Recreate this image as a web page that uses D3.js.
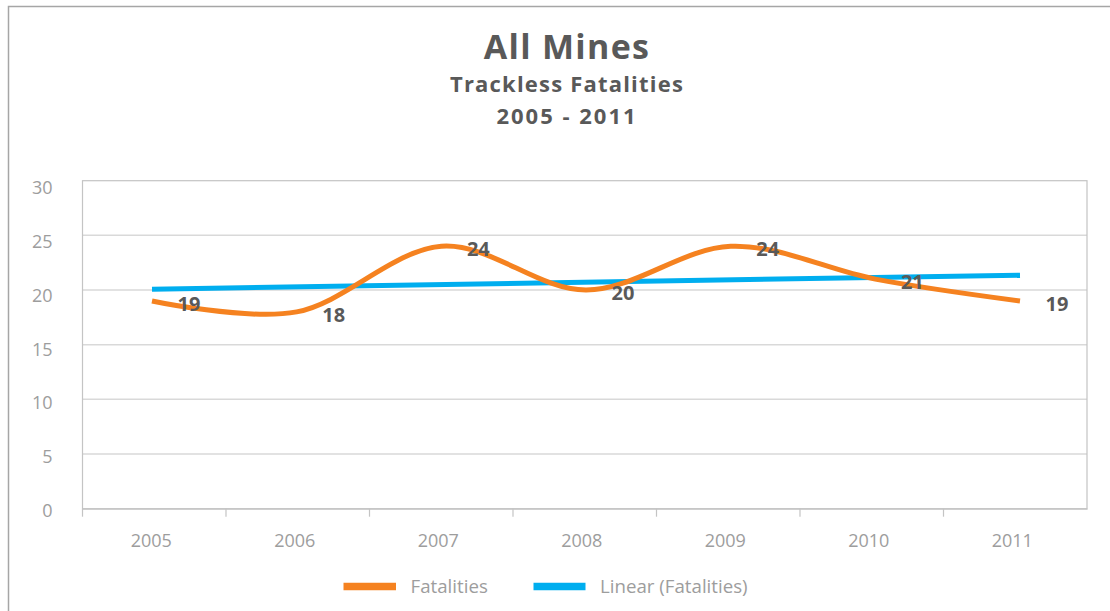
<!DOCTYPE html>
<html>
<head>
<meta charset="utf-8">
<script src="https://cdn.jsdelivr.net/npm/d3@7"></script>
<style>
  html, body { margin: 0; padding: 0; background: #ffffff; }
  svg { display: block; font-family: "Open Sans", "Noto Sans", sans-serif; }
</style>
</head>
<body>
<svg id="chart" width="1110" height="611"></svg>
<script>
// Trackless fatalities, all mines, 2005-2011
const years = ["2005", "2006", "2007", "2008", "2009", "2010", "2011"];
const fatalities = [19, 18, 24, 20, 24, 21, 19];
const yTicks = [0, 5, 10, 15, 20, 25, 30];
const titleLines = ["All Mines", "Trackless Fatalities", "2005 - 2011"];
const seriesNames = ["Fatalities", "Linear (Fatalities)"];

const W = 1110, H = 611;
const plot = { left: 82.5, right: 1087, top: 180.7, bottom: 508.7 };
const orange = "#F58220", blue = "#00AEEF";
const textDark = "#595959", textGrey = "#9d9d9d";

const svg = d3.select("#chart");

// Outer chart frame (top and left edges visible)
svg.append("path")
  .attr("d", `M8.5,${H} V6.5 H${W}`)
  .attr("fill", "none").attr("stroke", "#a6a6a6").attr("stroke-width", 1.5);

// Three-line title block
const titleStyle = [
  { size: 34, spacing: 1.3, y: 58.5 },
  { size: 22, spacing: 1.2, y: 91.5 },
  { size: 22, spacing: 2, y: 124 }
];
const title = svg.append("g")
  .attr("fill", textDark).attr("text-anchor", "middle").attr("font-weight", "bold");
title.selectAll("text").data(titleLines).join("text")
  .attr("x", 567)
  .attr("y", (d, i) => titleStyle[i].y)
  .attr("font-size", (d, i) => titleStyle[i].size)
  .attr("letter-spacing", (d, i) => titleStyle[i].spacing)
  .text(d => d);

// Scales
const y = d3.scaleLinear().domain([0, 30]).range([plot.bottom, plot.top]);
const xBand = d3.scaleBand().domain(years).range([plot.left, plot.right]);
const xPt = d3.scalePoint().domain(years).range([152, 1020]);

// Horizontal gridlines
svg.append("g").selectAll("line").data(yTicks.filter(v => v > 0 && v < 30)).join("line")
  .attr("x1", plot.left).attr("x2", plot.right)
  .attr("y1", d => y(d)).attr("y2", d => y(d))
  .attr("stroke", "#d9d9d9").attr("stroke-width", 1.5);

// Plot area border
svg.append("rect")
  .attr("x", plot.left).attr("y", plot.top)
  .attr("width", plot.right - plot.left).attr("height", plot.bottom - plot.top)
  .attr("fill", "none").attr("stroke", "#c4c4c4").attr("stroke-width", 1.2);

// Y axis labels
svg.append("g").selectAll("text").data(yTicks).join("text")
  .attr("x", 52.5).attr("y", d => y(d) + 2 + (d / 30) * 5)
  .attr("dy", "0.35em").attr("text-anchor", "end")
  .attr("font-size", 18).attr("fill", textGrey)
  .text(d => d);

// X axis: tick marks at category boundaries and year labels
const xAxis = d3.axisBottom(xBand).tickSize(0).tickPadding(0);
const xg = svg.append("g").attr("transform", `translate(0,${plot.bottom})`).call(xAxis);
xg.select(".domain").attr("stroke", "#c4c4c4").attr("stroke-width", 1.2);
xg.selectAll(".tick text")
  .attr("font-family", "\"Open Sans\", \"Noto Sans\", sans-serif")
  .attr("font-size", 18).attr("fill", textGrey)
  .attr("dx", -3).attr("y", 38.5).attr("dy", 0);
const boundaries = years.map(d => xBand(d));
svg.append("g").selectAll("line").data(boundaries).join("line")
  .attr("x1", d => d).attr("x2", d => d)
  .attr("y1", plot.bottom).attr("y2", plot.bottom + 8)
  .attr("stroke", "#c4c4c4").attr("stroke-width", 1.2);

// Least-squares trend through the yearly values
const n = fatalities.length;
const mx = d3.mean(fatalities, (_, i) => i), my = d3.mean(fatalities);
const slope = d3.sum(fatalities, (v, i) => (i - mx) * (v - my)) / d3.sum(fatalities, (_, i) => (i - mx) ** 2);
const intercept = my - slope * mx;
const trend = [0, n - 1].map(i => ({ year: years[i], value: intercept + slope * i }));

svg.append("path")
  .datum(trend)
  .attr("fill", "none").attr("stroke", blue).attr("stroke-width", 5)
  .attr("d", d3.line().x(d => xPt(d.year)).y(d => y(d.value)));

// Smoothed fatalities line
const series = years.map((yr, i) => ({ year: yr, value: fatalities[i] }));
svg.append("path")
  .datum(series)
  .attr("fill", "none").attr("stroke", orange).attr("stroke-width", 5)
  .attr("d", d3.line().curve(d3.curveCardinal.tension(0)).x(d => xPt(d.year)).y(d => y(d.value)));

// Value labels to the right of each point
svg.append("g").selectAll("text").data(series).join("text")
  .attr("x", d => xPt(d.year) + 37).attr("y", d => y(d.value) + 3)
  .attr("dy", "0.35em").attr("text-anchor", "middle")
  .attr("font-size", 20).attr("font-weight", "bold").attr("fill", textDark)
  .text(d => d.value);

// Legend
const legend = svg.append("g");
const legendItems = [
  { name: seriesNames[0], color: orange, x0: 343.5, x1: 396, tx: 410.5 },
  { name: seriesNames[1], color: blue, x0: 533.5, x1: 585.5, tx: 600 }
];
legend.selectAll("line").data(legendItems).join("line")
  .attr("x1", d => d.x0).attr("x2", d => d.x1).attr("y1", 586.5).attr("y2", 586.5)
  .attr("stroke", d => d.color).attr("stroke-width", 7.5);
legend.selectAll("text").data(legendItems).join("text")
  .attr("x", d => d.tx).attr("y", 586.5).attr("dy", "0.35em")
  .attr("font-size", 18.7).attr("fill", textGrey)
  .text(d => d.name);
</script>
</body>
</html>
